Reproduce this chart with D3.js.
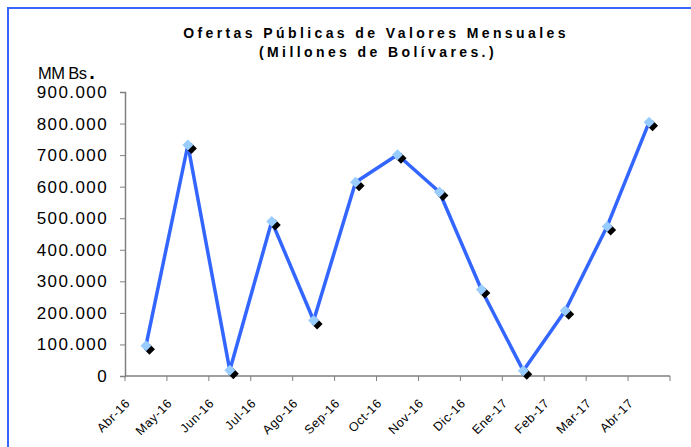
<!DOCTYPE html>
<html>
<head>
<meta charset="utf-8">
<script src="https://cdn.jsdelivr.net/npm/d3@7"></script>
<style>
  body { margin: 0; background: #fff; }
  svg { display: block; }
</style>
</head>
<body>
<div id="chart"></div>
<script>
const months = ["Abr-16", "May-16", "Jun-16", "Jul-16", "Ago-16", "Sep-16", "Oct-16",
                "Nov-16", "Dic-16", "Ene-17", "Feb-17", "Mar-17", "Abr-17"];
const values = [96000, 732000, 18000, 490000, 176000, 614000, 701000,
                583000, 274000, 17000, 207000, 474000, 804000];
const yTicks = [0, 100000, 200000, 300000, 400000, 500000, 600000, 700000, 800000, 900000];

const W = 691, H = 447;
const margin = { top: 92, right: 21, bottom: 71, left: 125 };
const width = W - margin.left - margin.right;
const height = H - margin.top - margin.bottom;

const svg = d3.select("#chart")
    .append("svg")
    .attr("width", W)
    .attr("height", H)
    .style("font-family", "'Liberation Sans', Arial, sans-serif");

// blue frame (right and bottom edges run past the picture)
svg.append("rect")
    .attr("x", 8)
    .attr("y", 8)
    .attr("width", W + 20)
    .attr("height", H + 20)
    .attr("fill", "none")
    .attr("stroke", "#3a66ff")
    .attr("stroke-width", 2);

svg.append("text")
    .attr("x", 376)
    .attr("y", 38)
    .attr("text-anchor", "middle")
    .style("font-size", "14px")
    .style("font-weight", "bold")
    .style("letter-spacing", "3.4px")
    .text("Ofertas Públicas de Valores Mensuales");

svg.append("text")
    .attr("x", 378)
    .attr("y", 57)
    .attr("text-anchor", "middle")
    .style("font-size", "14px")
    .style("font-weight", "bold")
    .style("letter-spacing", "3.4px")
    .text("(Millones de Bolívares.)");

const unit = svg.append("text")
    .attr("x", 38)
    .attr("y", 79)
    .style("font-size", "16.5px")
    .style("letter-spacing", "-0.6px");
unit.append("tspan").text("MM Bs");
unit.append("tspan")
    .attr("dx", 3)
    .style("font-weight", "bold")
    .style("font-size", "20px")
    .text(".");

const g = svg.append("g")
    .attr("transform", `translate(${margin.left},${margin.top})`);

const x = d3.scaleBand()
    .domain(months)
    .range([0, width])
    .padding(0);

const y = d3.scaleLinear()
    .domain([0, 900000])
    .range([height, 0]);

const fmt = d => d === 0 ? "0" : d3.format(",")(d).replace(/,/g, ".");

// y axis
const yAxis = g.append("g")
    .call(d3.axisLeft(y).tickValues(yTicks).tickFormat(fmt).tickSize(5).tickPadding(12));
yAxis.select(".domain").attr("stroke", "#808080").attr("stroke-width", 1.5);
yAxis.selectAll(".tick line").attr("stroke", "#808080");
yAxis.selectAll("text")
    .style("font-size", "17px")
    .style("letter-spacing", "1.4px")
    .attr("fill", "#000");

// x axis: ticks between categories
const xAxis = g.append("g").attr("transform", `translate(0,${height})`);
xAxis.append("line")
    .attr("x1", 0).attr("x2", width)
    .attr("stroke", "#808080").attr("stroke-width", 1.5);
xAxis.selectAll(".xtick")
    .data(months.concat(["_end"]))
    .enter()
    .append("line")
    .attr("class", "xtick")
    .attr("x1", (d, i) => i * x.step())
    .attr("x2", (d, i) => i * x.step())
    .attr("y1", 0).attr("y2", 5)
    .attr("stroke", "#808080");
xAxis.selectAll(".xlabel")
    .data(months)
    .enter()
    .append("text")
    .attr("class", "xlabel")
    .attr("text-anchor", "end")
    .attr("transform", d => `translate(${x(d) + x.bandwidth() / 2 - 15},28) rotate(-45)`)
    .style("font-size", "12.5px")
    .style("letter-spacing", "0.6px")
    .text(d => d);

const cx = d => x(d.month) + x.bandwidth() / 2;
const data = months.map((m, i) => ({ month: m, value: values[i] }));

g.append("path")
    .datum(data)
    .attr("fill", "none")
    .attr("stroke", "#3366ff")
    .attr("stroke-width", 3.5)
    .attr("stroke-linejoin", "round")
    .attr("d", d3.line().x(cx).y(d => y(d.value)));

const diamond = "M0,-5.5L5.5,0L0,5.5L-5.5,0Z";

g.selectAll(".shadow")
    .data(data)
    .enter()
    .append("path")
    .attr("class", "shadow")
    .attr("d", diamond)
    .attr("transform", d => `translate(${cx(d) + 3.5},${y(d.value) + 3.5})`)
    .attr("fill", "#000");

g.selectAll(".marker")
    .data(data)
    .enter()
    .append("path")
    .attr("class", "marker")
    .attr("d", diamond)
    .attr("transform", d => `translate(${cx(d)},${y(d.value)})`)
    .attr("fill", "#99ccff");
</script>
</body>
</html>
